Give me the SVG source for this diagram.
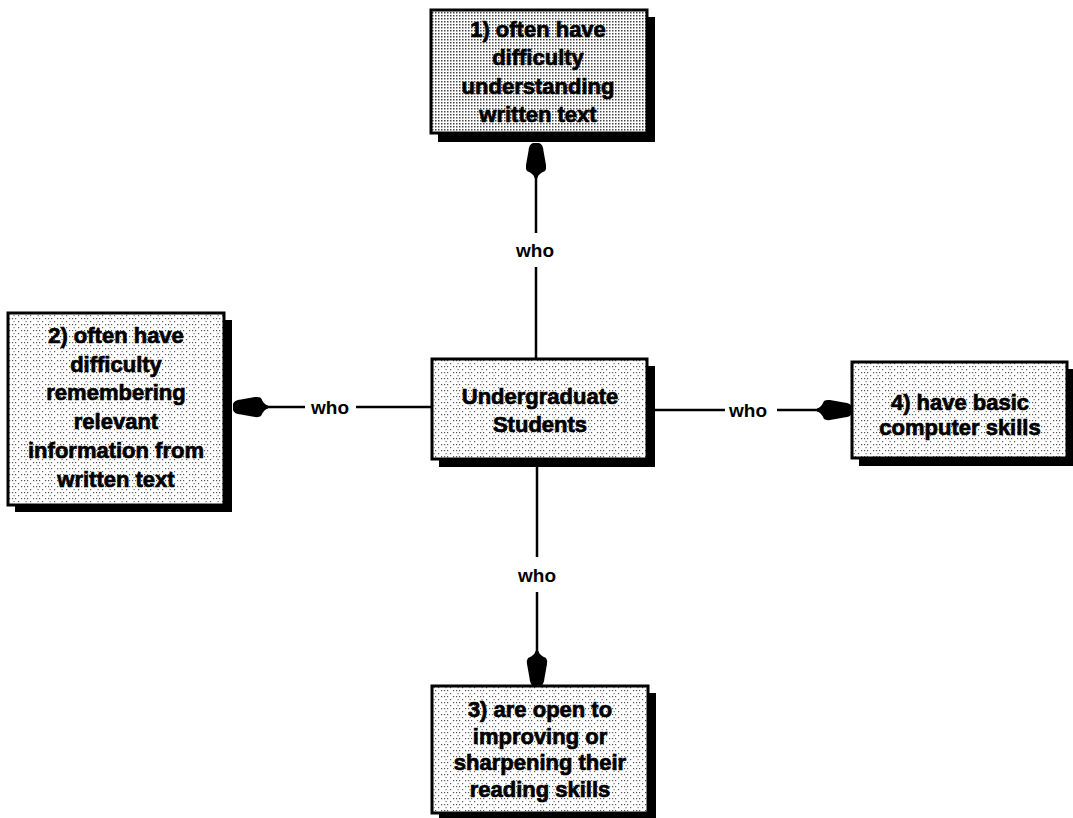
<svg xmlns="http://www.w3.org/2000/svg" width="1073" height="818" viewBox="0 0 1073 818">
<style>
.shadow{fill:#000}
.box{stroke:#000;stroke-width:3}
.t{font-family:"Liberation Sans",Arial,sans-serif;font-weight:bold;font-size:22px;fill:#000;stroke:#000;stroke-width:0.7;text-anchor:middle}
.lbl{font-family:"Liberation Sans",Arial,sans-serif;font-weight:bold;font-size:19px;fill:#000;text-anchor:middle;dominant-baseline:central}
.c{stroke:#000;stroke-width:2.5;fill:none}
</style>
<defs>
<pattern id="dense" width="3" height="3" patternUnits="userSpaceOnUse">
<rect width="3" height="3" fill="#fff"/>
<rect width="1.5" height="1.5" fill="#444"/>
</pattern>
<pattern id="sparse" width="12" height="6" patternUnits="userSpaceOnUse">
<rect width="12" height="6" fill="#fff"/>
<rect x="0" y="0" width="1.2" height="1.2" fill="#555"/>
<rect x="3" y="0" width="1.2" height="1.2" fill="#555"/>
<rect x="9" y="0" width="1.2" height="1.2" fill="#555"/>
<rect x="6" y="3" width="1.2" height="1.2" fill="#555"/>
<rect x="1.5" y="3" width="1.2" height="1.2" fill="#777"/>
</pattern>
<marker id="arr" markerUnits="userSpaceOnUse" viewBox="-36 -11 37 22" markerWidth="37" markerHeight="22" refX="0" refY="0" orient="auto">
<path d="M-35,-1.5 Q-31,-2 -28,-9 Q-26,-10.5 -22,-10 L-8,-7.5 Q-1,-7 0,-3 L0,3 Q-1,7 -8,7.5 L-22,10 Q-26,10.5 -28,9 Q-31,2 -35,1.5 Z" fill="#000"/>
</marker>
</defs>
<rect width="1073" height="818" fill="#fff"/>
<g id="connectors">
<line class="c" x1="536" y1="360" x2="536" y2="267"/>
<line class="c" x1="536" y1="233" x2="536" y2="143" marker-end="url(#arr)"/>
<text class="lbl" x="535" y="250">who</text>
<line class="c" x1="432" y1="407" x2="356" y2="407"/>
<line class="c" x1="305" y1="407" x2="233" y2="407" marker-end="url(#arr)"/>
<text class="lbl" x="330" y="407">who</text>
<line class="c" x1="655" y1="410" x2="725" y2="410"/>
<line class="c" x1="777" y1="410" x2="852" y2="410" marker-end="url(#arr)"/>
<text class="lbl" x="748" y="410">who</text>
<line class="c" x1="537" y1="467" x2="537" y2="557"/>
<line class="c" x1="537" y1="592" x2="537" y2="686" marker-end="url(#arr)"/>
<text class="lbl" x="537" y="575">who</text>
</g>
<g id="node1">
<rect class="shadow" x="438" y="17" width="217" height="125"/>
<rect class="box" x="431" y="10" width="216" height="123" fill="url(#dense)"/>
<text class="t" x="538" y="37">1) often have</text>
<text class="t" x="538" y="65">difficulty</text>
<text class="t" x="538" y="94">understanding</text>
<text class="t" x="538" y="122">written text</text>
</g>
<g id="node2">
<rect class="shadow" x="15" y="320" width="217" height="192"/>
<rect class="box" x="8" y="313" width="216" height="192" fill="url(#sparse)"/>
<text class="t" x="116" y="343">2) often have</text>
<text class="t" x="116" y="372">difficulty</text>
<text class="t" x="116" y="400">remembering</text>
<text class="t" x="116" y="429">relevant</text>
<text class="t" x="116" y="458">information from</text>
<text class="t" x="116" y="487">written text</text>
</g>
<g id="center">
<rect class="shadow" x="439" y="366" width="216" height="101"/>
<rect class="box" x="432" y="359" width="215" height="100" fill="url(#sparse)"/>
<text class="t" x="540" y="404">Undergraduate</text>
<text class="t" x="540" y="432">Students</text>
</g>
<g id="node4">
<rect class="shadow" x="859" y="369" width="214" height="97"/>
<rect class="box" x="852" y="362" width="215" height="96" fill="url(#sparse)"/>
<text class="t" x="960" y="410">4) have basic</text>
<text class="t" x="960" y="435">computer skills</text>
</g>
<g id="node3">
<rect class="shadow" x="439" y="693" width="217" height="125"/>
<rect class="box" x="432" y="686" width="216" height="127" fill="url(#sparse)"/>
<text class="t" x="540" y="717">3) are open to</text>
<text class="t" x="540" y="744">improving or</text>
<text class="t" x="540" y="770">sharpening their</text>
<text class="t" x="540" y="797">reading skills</text>
</g>
</svg>
